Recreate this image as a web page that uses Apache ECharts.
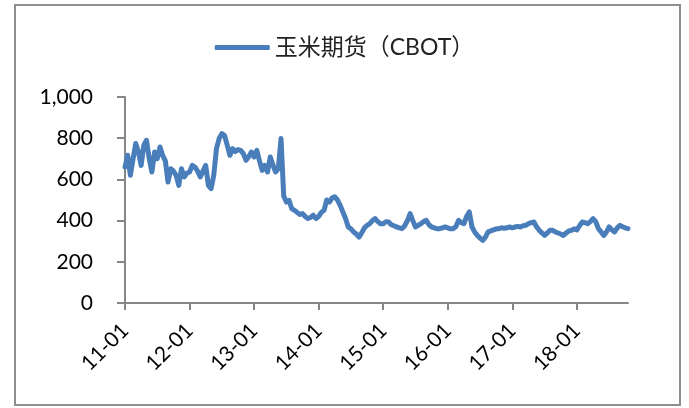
<!DOCTYPE html>
<html>
<head>
<meta charset="utf-8">
<script src="https://cdn.jsdelivr.net/npm/echarts@6/dist/echarts.min.js"></script>
<style>
  html, body { margin: 0; padding: 0; background: #fff; }
  #chart { width: 689px; height: 408px; }
</style>
</head>
<body>
<div id="chart"></div>
<script>
// 玉米期货（CBOT），半月一个点，2011-01 到 2018-10
var seriesName = '玉米期货（CBOT）'
var yTicks = [0, 200, 400, 600, 800, 1000]

var prices2011 = [660, 717, 620, 700, 774, 733, 668, 766, 790, 701, 636, 733,
                  701, 757, 717, 690, 587, 652, 640, 620, 571, 652, 612, 630]
var prices2012 = [636, 668, 660, 640, 612, 640, 668, 571, 555, 620, 749, 798,
                  822, 814, 766, 717, 749, 735, 745, 741, 725, 693, 710, 733]
var prices2013 = [709, 741, 690, 644, 668, 636, 709, 670, 636, 652, 798, 520,
                  490, 498, 458, 450, 440, 430, 434, 420, 410, 415, 426, 410]
var prices2014 = [420, 440, 450, 500, 490, 510, 515, 500, 474, 442, 410, 369,
                  360, 345, 335, 320, 340, 365, 377, 385, 400, 410, 395, 385]
var prices2015 = [385, 395, 393, 380, 375, 369, 365, 361, 375, 400, 434, 400,
                  369, 377, 385, 395, 401, 380, 369, 365, 361, 361, 365, 369]
var prices2016 = [365, 360, 361, 370, 401, 390, 385, 420, 442, 369, 345, 328,
                  315, 304, 320, 345, 350, 355, 360, 361, 365, 363, 365, 369]
var prices2017 = [365, 369, 372, 369, 375, 377, 385, 390, 393, 370, 353, 340,
                  328, 340, 353, 353, 345, 340, 335, 328, 340, 350, 353, 360]
var prices2018 = [355, 375, 393, 390, 385, 395, 410, 395, 361, 345, 328, 345,
                  369, 355, 345, 365, 377, 370, 365, 361]

var prices = [].concat(prices2011, prices2012, prices2013, prices2014,
  prices2015, prices2016, prices2017, prices2018)

// 日期类目：每月 1 日和 16 日
var dates = []
for (var i = 0; i < prices.length; i++) {
  var y = 2011 + Math.floor(i / 24)
  var m = Math.floor((i % 24) / 2) + 1
  var d = i % 2 === 0 ? '01' : '16'
  dates.push(y + '-' + (m < 10 ? '0' + m : m) + '-' + d)
}

var axisColor = '#868686'
var lineColor = '#4a7ebb'
var yearStart = function (index) { return index % 24 === 0 }

var chart = echarts.init(document.getElementById('chart'), null, { renderer: 'canvas' })
var option = {
  animation: false,
  backgroundColor: '#fff',
  textStyle: { fontFamily: "Lato, 'Noto Sans CJK SC', sans-serif" },
  graphic: [{
    type: 'rect',
    shape: { x: 15, y: 5, width: 665, height: 400 },
    style: { fill: 'none', stroke: '#8e8e8e', lineWidth: 2 },
    silent: true
  }],
  legend: {
    top: 31,
    left: 'center',
    data: [seriesName],
    icon: 'roundRect',
    itemWidth: 55,
    itemHeight: 5,
    itemGap: 10,
    textStyle: {
      fontSize: 23,
      color: '#222',
      fontFamily: "Lato, 'Noto Sans CJK SC', sans-serif"
    }
  },
  grid: {
    left: 125,
    right: 61,
    top: 97,
    bottom: 105
  },
  xAxis: {
    type: 'category',
    boundaryGap: false,
    data: dates,
    axisLine: { lineStyle: { color: axisColor, width: 2 } },
    axisTick: {
      show: true,
      interval: yearStart,
      length: 7,
      lineStyle: { color: axisColor, width: 2 }
    },
    axisLabel: {
      interval: yearStart,
      rotate: 45,
      margin: 24,
      fontSize: 21,
      color: '#000',
      formatter: function (value) { return value.slice(2, 7) }
    },
    splitLine: { show: false }
  },
  yAxis: {
    type: 'value',
    min: yTicks[0],
    max: yTicks[yTicks.length - 1],
    interval: 200,
    axisLine: { show: true, lineStyle: { color: axisColor, width: 2 } },
    axisTick: { show: true, length: 8, lineStyle: { color: axisColor, width: 2 } },
    axisLabel: {
      margin: 32,
      fontSize: 21,
      color: '#000',
      formatter: function (v) { return String(v).replace(/\B(?=(\d{3})+(?!\d))/g, ',') }
    },
    splitLine: { show: false }
  },
  series: [{
    name: seriesName,
    type: 'line',
    data: prices,
    showSymbol: false,
    symbol: 'none',
    itemStyle: { color: lineColor },
    lineStyle: { color: lineColor, width: 5, cap: 'round', join: 'round' }
  }]
}
chart.setOption(option)
</script>
</body>
</html>
